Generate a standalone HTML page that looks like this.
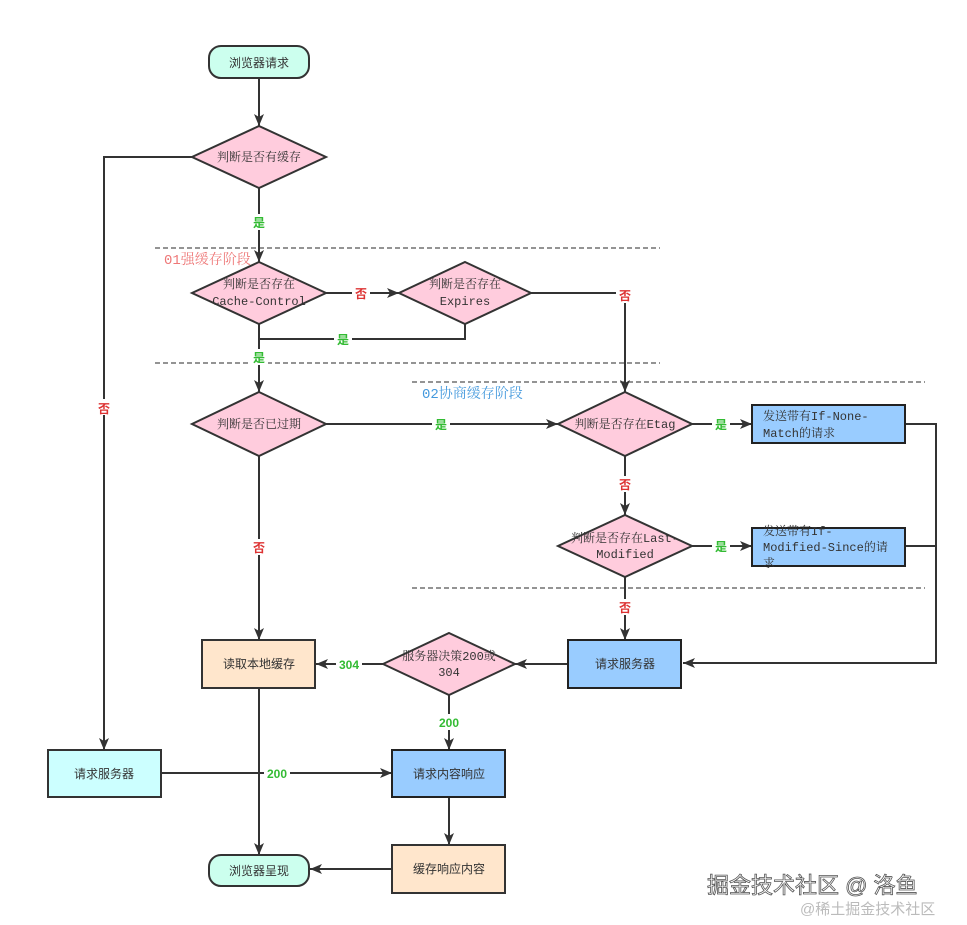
<!DOCTYPE html>
<html><head><meta charset="utf-8">
<style>
html,body{margin:0;padding:0;background:#fff;}
svg{display:block;}
text{font-family:"Liberation Mono","Noto Serif CJK SC","Noto Sans CJK SC",monospace;}
.n{font-size:12px;fill:#333;text-anchor:middle;}
.s{font-family:"Liberation Sans","Noto Sans CJK SC",sans-serif;font-size:12px;text-anchor:middle;}
.lb{font-family:"Liberation Sans","Noto Sans CJK SC",sans-serif;font-size:12px;font-weight:bold;text-anchor:middle;}
.g{fill:#33bb33;}
.r{fill:#dd3333;}
.ln{stroke:#333;stroke-width:2;fill:none;}
.d{stroke:#555;stroke-width:1.2;stroke-dasharray:5,3;fill:none;}
.dia{fill:#ffccdd;stroke:#333;stroke-width:2;}
.bl{fill:#99ccff;stroke:#222;stroke-width:2;}
.pe{fill:#ffe6cc;stroke:#333;stroke-width:2;}
</style></head>
<body>
<svg width="967" height="925" viewBox="0 0 967 925" xmlns="http://www.w3.org/2000/svg">
<defs>
<marker id="a" viewBox="0 0 12 10" refX="12" refY="5" markerWidth="12" markerHeight="10" markerUnits="userSpaceOnUse" orient="auto">
<path d="M0,0 L12,5 L0,10 L3,5 z" fill="#333"/>
</marker>
</defs>

<line class="d" x1="155" y1="248" x2="660" y2="248"/>
<line class="d" x1="155" y1="363" x2="660" y2="363"/>
<line class="d" x1="412" y1="382" x2="925" y2="382"/>
<line class="d" x1="412" y1="588" x2="925" y2="588"/>

<line class="ln" x1="259" y1="78" x2="259" y2="126" marker-end="url(#a)"/>
<polyline class="ln" points="192,157 104,157 104,750" marker-end="url(#a)"/>
<line class="ln" x1="259" y1="188" x2="259" y2="262" marker-end="url(#a)"/>
<line class="ln" x1="326" y1="293" x2="399" y2="293" marker-end="url(#a)"/>
<polyline class="ln" points="531,293 625,293 625,392" marker-end="url(#a)"/>
<polyline class="ln" points="465,324 465,339 259,339"/>
<line class="ln" x1="259" y1="324" x2="259" y2="392" marker-end="url(#a)"/>
<line class="ln" x1="326" y1="424" x2="558" y2="424" marker-end="url(#a)"/>
<line class="ln" x1="692" y1="424" x2="752" y2="424" marker-end="url(#a)"/>
<polyline class="ln" points="905,424 936,424 936,663 683,663" marker-end="url(#a)"/>
<line class="ln" x1="625" y1="456" x2="625" y2="515" marker-end="url(#a)"/>
<line class="ln" x1="692" y1="546" x2="752" y2="546" marker-end="url(#a)"/>
<line class="ln" x1="905" y1="546" x2="936" y2="546"/>
<line class="ln" x1="625" y1="577" x2="625" y2="640" marker-end="url(#a)"/>
<line class="ln" x1="568" y1="664" x2="515" y2="664" marker-end="url(#a)"/>
<line class="ln" x1="383" y1="664" x2="316" y2="664" marker-end="url(#a)"/>
<line class="ln" x1="259" y1="456" x2="259" y2="640" marker-end="url(#a)"/>
<line class="ln" x1="449" y1="695" x2="449" y2="750" marker-end="url(#a)"/>
<line class="ln" x1="161" y1="773" x2="392" y2="773" marker-end="url(#a)"/>
<line class="ln" x1="259" y1="688" x2="259" y2="855" marker-end="url(#a)"/>
<line class="ln" x1="449" y1="797" x2="449" y2="845" marker-end="url(#a)"/>
<line class="ln" x1="392" y1="869" x2="310" y2="869" marker-end="url(#a)"/>

<rect x="250" y="214" width="18" height="16" fill="#fff"/><text class="lb g" x="259" y="227">是</text>
<rect x="95" y="399" width="18" height="16" fill="#fff"/><text class="lb r" x="104" y="413">否</text>
<rect x="352" y="285" width="18" height="16" fill="#fff"/><text class="lb r" x="361" y="298">否</text>
<rect x="616" y="287" width="18" height="16" fill="#fff"/><text class="lb r" x="625" y="300">否</text>
<rect x="334" y="331" width="18" height="16" fill="#fff"/><text class="lb g" x="343" y="344">是</text>
<rect x="250" y="349" width="18" height="16" fill="#fff"/><text class="lb g" x="259" y="362">是</text>
<rect x="432" y="416" width="18" height="16" fill="#fff"/><text class="lb g" x="441" y="429">是</text>
<rect x="712" y="416" width="18" height="16" fill="#fff"/><text class="lb g" x="721" y="429">是</text>
<rect x="616" y="476" width="18" height="16" fill="#fff"/><text class="lb r" x="625" y="489">否</text>
<rect x="712" y="538" width="18" height="16" fill="#fff"/><text class="lb g" x="721" y="551">是</text>
<rect x="616" y="599" width="18" height="16" fill="#fff"/><text class="lb r" x="625" y="612">否</text>
<rect x="250" y="539" width="18" height="16" fill="#fff"/><text class="lb r" x="259" y="552">否</text>
<rect x="336" y="656" width="26" height="16" fill="#fff"/><text class="lb g" x="349" y="669">304</text>
<rect x="436" y="714" width="26" height="16" fill="#fff"/><text class="lb g" x="449" y="727">200</text>
<rect x="264" y="765" width="26" height="16" fill="#fff"/><text class="lb g" x="277" y="778">200</text>

<text x="164" y="264" font-size="14" fill="#ee7777">01强缓存阶段</text>
<text x="422" y="398" font-size="14" fill="#4499dd">02协商缓存阶段</text>

<rect x="209" y="46" width="100" height="32" rx="12" fill="#ccffee" stroke="#333" stroke-width="2"/>
<text class="s" x="259" y="67" fill="#333">浏览器请求</text>

<polygon class="dia" points="259,126 326,157 259,188 192,157"/>
<text class="n" x="259" y="161">判断是否有缓存</text>

<polygon class="dia" points="259,262 326,293 259,324 192,293"/>
<text class="n" x="259" y="288">判断是否存在</text>
<text class="n" x="259" y="305">Cache-Control</text>

<polygon class="dia" points="465,262 531,293 465,324 399,293"/>
<text class="n" x="465" y="288">判断是否存在</text>
<text class="n" x="465" y="305">Expires</text>

<polygon class="dia" points="259,392 326,424 259,456 192,424"/>
<text class="n" x="259" y="428">判断是否已过期</text>

<polygon class="dia" points="625,392 692,424 625,456 558,424"/>
<text class="n" x="625" y="428">判断是否存在Etag</text>

<rect class="bl" x="752" y="405" width="153" height="38"/>
<text x="763" y="420" font-size="12" fill="#333">发送带有If-None-</text>
<text x="763" y="437" font-size="12" fill="#333">Match的请求</text>

<polygon class="dia" points="625,515 692,546 625,577 558,546"/>
<text class="n" x="625" y="542">判断是否存在Last-</text>
<text class="n" x="625" y="558">Modified</text>

<rect class="bl" x="752" y="528" width="153" height="38"/>
<text x="763" y="535" font-size="12" fill="#333">发送带有If-</text>
<text x="763" y="551" font-size="12" fill="#333">Modified-Since的请</text>
<text x="763" y="567" font-size="12" fill="#333">求</text>

<rect class="bl" x="568" y="640" width="113" height="48"/>
<text class="s" x="625" y="668" fill="#333">请求服务器</text>

<polygon class="dia" points="449,633 515,664 449,695 383,664"/>
<text class="n" x="449" y="660">服务器决策200或</text>
<text class="n" x="449" y="676">304</text>

<rect class="pe" x="202" y="640" width="113" height="48"/>
<text class="s" x="259" y="668" fill="#333">读取本地缓存</text>

<rect x="48" y="750" width="113" height="47" fill="#ccffff" stroke="#333" stroke-width="2"/>
<text class="s" x="104" y="778" fill="#333">请求服务器</text>

<rect class="bl" x="392" y="750" width="113" height="47"/>
<text class="s" x="449" y="778" fill="#333">请求内容响应</text>

<rect class="pe" x="392" y="845" width="113" height="48"/>
<text class="s" x="449" y="873" fill="#333">缓存响应内容</text>

<rect x="209" y="855" width="100" height="31" rx="12" fill="#ccffee" stroke="#333" stroke-width="2"/>
<text class="s" x="259" y="875" fill="#333">浏览器呈现</text>

<text x="707" y="893" font-size="22" fill="#fff" stroke="#555" stroke-width="0.8" style='font-family:"Liberation Sans","Noto Sans CJK SC",sans-serif'>掘金技术社区 @ 洛鱼</text>
<text x="800" y="914" font-size="15" fill="#bbb" style='font-family:"Liberation Sans","Noto Sans CJK SC",sans-serif'>@稀土掘金技术社区</text>
</svg>
</body></html>
